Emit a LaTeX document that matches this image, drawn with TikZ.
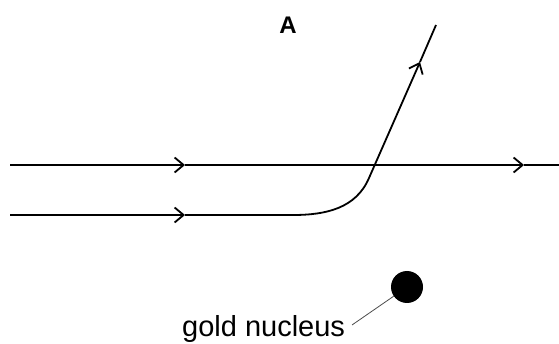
\documentclass[tikz,border=0pt]{standalone}
\usepackage{fontspec}
\setmainfont{Liberation Sans}
\usetikzlibrary{arrows.meta}
\begin{document}
\begin{tikzpicture}[x=1pt,y=-1pt,
  trackline/.style={line width=1.8pt,black},
  tip/.style={-{Straight Barb[length=9pt,width=15pt,line width=1.8pt]}},
  lbl/.style={font=\fontsize{29}{31}\selectfont,inner sep=0pt,anchor=base west}]
\useasboundingbox (0,0) rectangle (559,344);
% top straight path
\coordinate (t0) at (10,165);
\coordinate (t1) at (185,165);
\coordinate (t2) at (524,165);
\coordinate (t3) at (559,165);
\draw[trackline,tip] (t0) -- (t1);
\draw[trackline,tip] (t1) -- (t2);
\draw[trackline] (t2) -- (t3);
% deflected path
\coordinate (b0) at (10,215);
\coordinate (b1) at (185,215);
\coordinate (b2) at (293,215);
\coordinate (b3) at (369,178);
\coordinate (b4) at (420,62);
\coordinate (b5) at (436,25);
\draw[trackline,tip] (b0) -- (b1);
\draw[trackline] (b1) -- (b2) to[out=0,in=246.8] (b3);
\draw[trackline,tip] (b3) -- (b4);
\draw[trackline] (b4) -- (b5);
% label A
\node[font=\bfseries\fontsize{24}{26}\selectfont,inner sep=0pt] (A) at (288,25) {A};
% nucleus
\node[circle,fill=black,minimum size=32pt,inner sep=0pt] (nuc) at (407,287) {};
\node[lbl] (gl) at (182,337) {gold nucleus};
\coordinate (ls) at (352,325);
\draw[line width=0.8pt,gray!60!black] (ls) -- (nuc);
\end{tikzpicture}
\end{document}
